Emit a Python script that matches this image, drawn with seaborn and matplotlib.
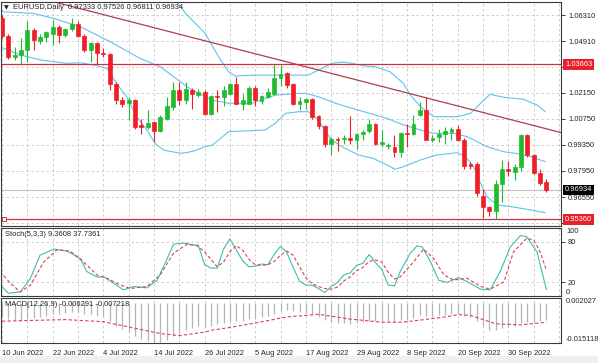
import numpy as np
import matplotlib
matplotlib.use('Agg')
import matplotlib.pyplot as plt
import seaborn as sns
from matplotlib.transforms import blended_transform_factory
from matplotlib.patches import Rectangle

# EURUSD daily candles, 10 Jun 2022 .. 10 Oct 2022
opens = [1.0617, 1.0518, 1.0406, 1.0418, 1.0445, 1.0551, 1.0490, 1.0511, 1.0532, 1.0568,
         1.0523, 1.0554, 1.0583, 1.0518, 1.0443, 1.0482, 1.0429, 1.0421, 1.0263, 1.0177,
         1.0159, 1.0177, 1.0039, 1.0030, 1.0057, 1.0012, 1.0075, 1.0138, 1.0228, 1.0174,
         1.0231, 1.0201, 1.0220, 1.0102, 1.0198, 1.0192, 1.0206, 1.0260, 1.0156, 1.0156,
         1.0242, 1.0170, 1.0192, 1.0210, 1.0296, 1.0320, 1.0263, 1.0156, 1.0165, 1.0181,
         1.0088, 1.0034, 0.9937, 0.9968, 0.9966, 0.9970, 0.9962, 0.9991, 1.0009, 1.0048,
         0.9937, 0.9929, 0.9923, 0.9896, 0.9998, 0.9995, 1.0093, 1.0120, 0.9962, 0.9977,
         0.9995, 1.0003, 1.0021, 0.9962, 0.9830, 0.9830, 0.9663, 0.9600, 0.9582, 0.9726,
         0.9806, 0.9788, 0.9819, 0.9986, 0.9878, 0.9783, 0.97333]
highs = [1.0630, 1.0528, 1.0461, 1.0506, 1.0601, 1.0560, 1.0532, 1.0545, 1.0605, 1.0578,
         1.0560, 1.0615, 1.0601, 1.0532, 1.0488, 1.0488, 1.0452, 1.0425, 1.0272, 1.0192,
         1.0192, 1.0183, 1.0075, 1.0120, 1.0057, 1.0093, 1.0192, 1.0272, 1.0272, 1.0272,
         1.0242, 1.0235, 1.0228, 1.0201, 1.0231, 1.0249, 1.0267, 1.0299, 1.0210, 1.0249,
         1.0249, 1.0203, 1.0242, 1.0371, 1.0368, 1.0326, 1.0267, 1.0192, 1.0188, 1.0188,
         1.0093, 1.0039, 0.9977, 0.9977, 0.9986, 1.0088, 0.9998, 1.0016, 1.0075, 1.0052,
         1.0016, 0.9944, 0.9986, 1.0003, 1.0045, 1.0093, 1.0165, 1.0192, 0.9986, 1.0021,
         1.0030, 1.0030, 1.0039, 0.9973, 0.9842, 0.9842, 0.9699, 0.9609, 0.9744, 0.9855,
         0.9851, 0.9833, 0.9995, 0.9995, 0.9887, 0.9806, 0.97526]
lows = [1.0506, 1.0398, 1.0389, 1.0362, 1.0380, 1.0445, 1.0475, 1.0488, 1.0470, 1.0482,
        1.0515, 1.0548, 1.0514, 1.0434, 1.0380, 1.0371, 1.0407, 1.0231, 1.0156, 1.0138,
        1.0066, 1.0021, 0.9995, 1.0021, 0.9952, 1.0003, 1.0070, 1.0120, 1.0147, 1.0156,
        1.0129, 1.0190, 1.0093, 1.0093, 1.0111, 1.0142, 1.0201, 1.0156, 1.0120, 1.0152,
        1.0142, 1.0156, 1.0188, 1.0201, 1.0249, 1.0242, 1.0147, 1.0120, 1.0129, 1.0075,
        1.0021, 0.9923, 0.9883, 0.9901, 0.9941, 0.9937, 0.9914, 0.9962, 0.9998, 0.9932,
        0.9923, 0.9914, 0.9869, 0.9869, 0.9923, 0.9986, 1.0088, 0.9959, 0.9950, 0.9950,
        0.9941, 0.9959, 0.9955, 0.9806, 0.9806, 0.9663, 0.9543, 0.9555, 0.9536, 0.9627,
        0.9770, 0.9744, 0.9794, 0.9869, 0.9779, 0.9722, 0.96811]
closes = [1.0518, 1.0406, 1.0418, 1.0445, 1.0551, 1.0496, 1.0511, 1.0538, 1.0568, 1.0523,
          1.0554, 1.0583, 1.0518, 1.0443, 1.0482, 1.0425, 1.0421, 1.0263, 1.0174, 1.0156,
          1.0177, 1.0030, 1.0030, 1.0052, 1.0012, 1.0084, 1.0142, 1.0228, 1.0174, 1.0232,
          1.0206, 1.0220, 1.0102, 1.0195, 1.0192, 1.0228, 1.0260, 1.0156, 1.0174, 1.0242,
          1.0174, 1.0195, 1.0217, 1.0296, 1.0317, 1.0255, 1.0152, 1.0170, 1.0181, 1.0084,
          1.0034, 0.9937, 0.9968, 0.9962, 0.9973, 0.9962, 0.9991, 1.0003, 1.0048, 0.9941,
          0.9950, 0.9932, 0.9896, 0.9998, 0.9991, 1.0045, 1.0120, 0.9962, 0.9973, 0.9995,
          1.0007, 1.0021, 0.9962, 0.9824, 0.9824, 0.9675, 0.9600, 0.9582, 0.9726, 0.9806,
          0.9794, 0.9819, 0.9986, 0.9878, 0.9783, 0.9729, 0.96934]

# bollinger bands, sampled along the chart (bar index, price)
bb_up_x = [0, 10, 20, 25, 27.4, 29.0, 32.1, 34.2, 35.8, 36.9, 39.5, 44.8, 48.4, 50.0, 52.1, 53.7,
           55.3, 57.4, 59.0, 61.3, 63.4, 64.5, 66.1, 68.2, 71.9, 74.0, 76.1, 77.1, 79.3, 82.4, 84.5, 85.8]
bb_up = [1.0850, 1.0840, 1.0810, 1.0770, 1.0712, 1.0640, 1.0533, 1.0408, 1.0327, 1.0304, 1.0309, 1.0309,
         1.0309, 1.0336, 1.0372, 1.0379, 1.0372, 1.0358, 1.0354, 1.0327, 1.0265, 1.0202, 1.0140, 1.0086,
         1.0086, 1.0104, 1.0175, 1.0206, 1.0190, 1.0179, 1.0149, 1.0113]
bb_mid_x = [0, 5.0, 8.2, 12.4, 17.1, 21.8, 25.0, 29.3, 31.1, 33.2, 35.8, 39.5, 41.6, 43.2, 46.9, 48.0,
            50.0, 52.7, 55.3, 58.5, 60.8, 63.5, 66.1, 68.2, 71.3, 73.5, 76.6, 79.3, 81.9, 83.5, 85.8]
bb_mid = [1.0649, 1.0640, 1.0613, 1.0568, 1.0488, 1.0399, 1.0354, 1.0245, 1.0211, 1.0175, 1.0158, 1.0158,
          1.0184, 1.0202, 1.0211, 1.0211, 1.0193, 1.0158, 1.0131, 1.0100, 1.0077, 1.0041, 1.0015, 0.9997,
          0.9997, 0.9979, 0.9925, 0.9898, 0.9886, 0.9872, 0.9845]
bb_low_x = [0, 2.9, 6.1, 10.3, 12.4, 14.5, 16.6, 17.9, 19.7, 21.3, 22.9, 24.2, 25.5, 28.2, 29.4, 30.5,
            32.1, 33.2, 34.2, 35.8, 39.5, 41.6, 43.2, 44.8, 46.9, 48.4, 50.0, 51.1, 52.1, 53.7, 56.3,
            58.6, 60.3, 62.1, 63.4, 66.1, 68.7, 71.9, 73.2, 74.5, 75.6, 76.6, 78.2, 80.3, 82.9, 85.8]
bb_low = [1.0456, 1.0417, 1.0390, 1.0372, 1.0375, 1.0363, 1.0345, 1.0274, 1.0193, 1.0086, 1.0015, 0.9943,
          0.9907, 0.9890, 0.9895, 0.9904, 0.9925, 0.9934, 0.9961, 1.0006, 1.0011, 1.0015, 1.0051, 1.0104,
          1.0113, 1.0113, 1.0068, 1.0006, 0.9961, 0.9925, 0.9881, 0.9863, 0.9836, 0.9804, 0.9818, 0.9854,
          0.9881, 0.9893, 0.9872, 0.9818, 0.9729, 0.9657, 0.9613, 0.9604, 0.9590, 0.9571]

# trend line and horizontal levels
trend_x = [7.6, 88.4]
trend_y = [1.0707, 1.0000]
level_hi = 1.03663
level_lo = 0.95360
last_price = 0.96934

# stochastic (5,3,3)
st_main_x = [-0.3, 1.0, 2.9, 4.5, 6.0, 8.2, 10.3, 12.4, 13.4, 15.0, 16.1, 17.6, 19.2, 20.8, 22.9, 24.5,
             26.1, 27.1, 28.7, 30.3, 31, 32, 33, 34, 35, 36, 37, 38, 39, 40, 41, 42, 43, 44, 45, 46, 47,
             48, 49, 50, 51, 52, 53, 54, 55, 56, 57, 58, 59, 60, 61, 62, 62.9, 64.5, 65.6, 66.4, 67.7,
             69.0, 70.3, 72.1, 73.5, 75.6, 77.1, 78.7, 80.3, 81.9, 82.9, 84.5, 86.0]
st_main = [17, 4, 6, 26, 60, 69, 66, 55, 36, 28, 28, 19, 9, 14, 12, 23,
           55, 76, 78, 75, 75, 46, 41, 41, 69, 84, 68, 52, 43, 44, 47, 46, 61, 73, 64, 42, 22,
           16, 16, 11, 5, 14, 20, 31, 34, 45, 48, 61, 49, 39, 16, 15, 36, 63, 74, 72, 50,
           23, 20, 27, 21, 10, 9, 36, 72, 89, 87, 65, 9.36]
st_sig_x = [-0.3, 1.3, 2.9, 4.5, 6.6, 8.7, 10.8, 12.9, 15.0, 16.6, 18.7, 20.3, 22.9, 25.0, 27.1, 29.2,
            30.8, 32, 33, 34, 35, 36, 37, 38, 39, 40, 41, 42, 43, 44, 45, 46, 47, 48, 49, 50, 51, 52,
            53, 54, 55, 56, 57, 58, 59, 60, 61, 62, 62.9, 65.0, 66.6, 68.2, 69.8, 71.3, 73.5, 75.6,
            77.1, 79.3, 80.8, 82.9, 84.0, 85.0, 86.0]
st_sig = [36, 19, 6, 16, 50, 68, 66, 50, 31, 26, 16, 11, 14, 31, 63, 76,
          74, 65, 54, 43, 50, 65, 74, 68, 54, 46, 45, 46, 51, 60, 66, 60, 43, 27, 18, 14, 11, 10,
          13, 22, 28, 37, 42, 51, 53, 50, 35, 25, 28, 50, 69, 55, 31, 23.5, 26, 14,
          10, 21, 65, 85, 82, 65, 37.74]

# MACD (12,26,9): histogram per bar and signal line
macd_hist = [-0.0050, -0.0058, -0.0064, -0.0066, -0.0060, -0.0056, -0.0052, -0.0047, -0.0042, -0.0040,
             -0.0036, -0.0032, -0.0033, -0.0040, -0.0042, -0.0047, -0.0050, -0.0068, -0.0085, -0.0098,
             -0.0108, -0.0125, -0.0135, -0.0142, -0.0151, -0.0148, -0.0138, -0.0124, -0.0115, -0.0103,
             -0.0095, -0.0088, -0.0090, -0.0085, -0.0080, -0.0074, -0.0066, -0.0067, -0.0066, -0.0060,
             -0.0058, -0.0054, -0.0050, -0.0040, -0.0030, -0.0026, -0.0030, -0.0033, -0.0035, -0.0042,
             -0.0052, -0.0065, -0.0070, -0.0074, -0.0076, -0.0077, -0.0076, -0.0073, -0.0066, -0.0068,
             -0.0068, -0.0069, -0.0071, -0.0064, -0.0062, -0.0055, -0.0046, -0.0048, -0.0047, -0.0045,
             -0.0043, -0.0040, -0.0040, -0.0048, -0.0054, -0.0069, -0.0087, -0.0100, -0.0100, -0.0094,
             -0.0090, -0.0086, -0.0074, -0.0070, -0.0070, -0.0068, -0.006291]
macd_sig_x = [0, 10, 16, 20, 22, 25, 28, 32, 33, 36, 40, 45, 50, 55, 60, 63, 65, 70, 72, 74, 78, 82, 86]
macd_sig = [-0.0068, -0.0062, -0.0070, -0.0090, -0.0100, -0.0115, -0.0123, -0.0110, -0.0103, -0.0092,
            -0.0075, -0.0052, -0.0042, -0.0060, -0.0072, -0.0072, -0.0067, -0.0052, -0.0043, -0.0046,
            -0.0078, -0.0082, -0.007218]

date_ticks = [0, 8, 16, 24, 32, 40, 48, 56, 64, 72, 80]
date_labels = ['10 Jun 2022', '22 Jun 2022', '4 Jul 2022', '14 Jul 2022', '26 Jul 2022', '5 Aug 2022',
               '17 Aug 2022', '29 Aug 2022', '8 Sep 2022', '20 Sep 2022', '30 Sep 2022']
price_ticks = [1.06310, 1.04910, 1.03510, 1.02150, 1.00750, 0.99350, 0.97950, 0.96550, 0.95150]

sns.set_style('white')
plt.rcParams['font.family'] = ['Liberation Sans', 'DejaVu Sans']
FS = 5.4
BULL, BEAR = '#22bb2e', '#f01e28'
BAND = '#62c3ea'
GRID = dict(color='#c6c6c6', lw=0.6, ls=(0, (3, 3)))

fig = plt.figure(figsize=(5.98, 3.63), dpi=100)
W, H = 598.0, 363.0
def panel(top, bottom):
    return fig.add_axes([1 / W, 1 - bottom / H, 560 / W, (bottom - top) / H])

ax = panel(2, 226)
ax_st = panel(228, 296)
ax_md = panel(298, 343)
fig.patches.append(Rectangle((0, 0), 1, 7 / H, transform=fig.transFigure, color='#f0f0f0', zorder=-5))

x = np.arange(len(closes))
xlim = (-0.15, 88.3)
grid_x = np.arange(0, 89, 4)

for a in (ax, ax_st, ax_md):
    a.set_xlim(*xlim)
    for gx in grid_x:
        a.axvline(gx, zorder=0, **GRID)
    for s in a.spines.values():
        s.set_color('#3a3a3a')
        s.set_linewidth(0.8)
    a.yaxis.tick_right()
    a.tick_params(axis='y', labelsize=FS, length=3, width=0.6, pad=2, colors='#222222')
    a.set_xticks([])
    a.set_xlabel('')
    a.set_ylabel('')

# ---- main price panel
ax.set_ylim(0.9500, 1.0701)
for py in price_ticks:
    ax.axhline(py, zorder=0, **GRID)
ax.set_yticks(price_ticks)
# labels under the red level boxes are hidden on the original
hidden = (1.03510, 0.95150)
ax.set_yticklabels(['' if p in hidden else '%.5f' % p for p in price_ticks])

o = np.array(opens); c = np.array(closes); h = np.array(highs); l = np.array(lows)
cols = np.where(c >= o, BULL, BEAR)
ax.vlines(x, l, h, colors=cols, lw=0.8, zorder=3)
ax.bar(x, np.abs(c - o), bottom=np.minimum(o, c), width=0.62, color=cols, edgecolor=cols,
       linewidth=0.5, zorder=4)

sns.lineplot(x=bb_up_x, y=bb_up, ax=ax, color=BAND, lw=0.8, zorder=2)
sns.lineplot(x=bb_mid_x, y=bb_mid, ax=ax, color=BAND, lw=0.8, zorder=2)
sns.lineplot(x=bb_low_x, y=bb_low, ax=ax, color=BAND, lw=0.8, zorder=2)
sns.lineplot(x=trend_x, y=trend_y, ax=ax, color='#a8404c', lw=0.9, zorder=2)
ax.axhline(level_hi, color='#d23040', lw=0.9, zorder=2)
ax.axhline(level_lo, color='#d23040', lw=0.9, zorder=2)
ax.axhline(last_price, color='#c0c0c0', lw=0.8, zorder=1)
ax.set_xlim(*xlim)
ax.set_xlabel('')
ax.set_ylabel('')

tr = blended_transform_factory(ax.transAxes, ax.transData)
for val, bg in [(level_hi, '#e8202e'), (last_price, '#000000'), (level_lo, '#e8202e')]:
    ax.text(1.0 + 4 / 560, val, '%.5f' % val, transform=tr, fontsize=FS, color='white', va='center',
            ha='left', bbox=dict(boxstyle='square,pad=0.25', fc=bg, ec='none'), zorder=10, clip_on=False)
ax.plot([0.3], [level_lo], marker='s', ms=3, mfc='white', mec='#d23040', mew=0.7, zorder=5)
ax.text(3 / 560, 0.975, '\u25bc', transform=ax.transAxes, fontsize=4.5, family=['DejaVu Sans'],
        va='center', ha='left', color='#222222')
ax.text(12 / 560, 0.975, 'EURUSD,Daily  0.97333 0.97526 0.96811 0.96934', transform=ax.transAxes,
        fontsize=FS, va='center', ha='left', color='#222222')

# ---- stochastic panel
ax_st.set_ylim(0, 100)
for lv in (20, 80):
    ax_st.axhline(lv, zorder=0, **GRID)
sns.lineplot(x=st_main_x, y=st_main, ax=ax_st, color='#3cbfae', lw=0.8)
sns.lineplot(x=st_sig_x, y=st_sig, ax=ax_st, color='#e0404a', lw=0.8, linestyle=(0, (3, 2)))
ax_st.set_yticks([20, 80])
ax_st.set_yticklabels(['20', '80'])
trs = blended_transform_factory(ax_st.transAxes, ax_st.transData)
ax_st.text(1.0 + 5 / 560, 100, '100', transform=trs, fontsize=FS, va='top', ha='left', clip_on=False)
ax_st.text(1.0 + 5 / 560, 0, '0', transform=trs, fontsize=FS, va='bottom', ha='left', clip_on=False)
ax_st.text(4 / 560, 0.91, 'Stoch(5,3,3) 9.3608 37.7361', transform=ax_st.transAxes, fontsize=FS,
           va='center', ha='left', color='#222222')
ax_st.set_xlim(*xlim)
ax_st.set_xlabel('')
ax_st.set_ylabel('')

# ---- MACD panel
lo_m, hi_m = -0.015118, 0.002027
ax_md.set_ylim(lo_m, hi_m)
ax_md.vlines(x, 0, macd_hist, colors='#b4b4b4', lw=0.9, zorder=2)
sns.lineplot(x=macd_sig_x, y=macd_sig, ax=ax_md, color='#e0404a', lw=0.8, linestyle=(0, (3, 2)), zorder=3)
ax_md.set_yticks([])
trm = blended_transform_factory(ax_md.transAxes, ax_md.transData)
ax_md.text(1.0 + 5 / 560, hi_m, '%.6f' % hi_m, transform=trm, fontsize=FS, va='top', ha='left', clip_on=False)
ax_md.text(1.0 + 5 / 560, lo_m, '%.6f' % lo_m, transform=trm, fontsize=FS, va='bottom', ha='left', clip_on=False)
ax_md.text(4 / 560, 0.86, 'MACD(12,26,9) -0.006291 -0.007218', transform=ax_md.transAxes, fontsize=FS,
           va='center', ha='left', color='#222222')
ax_md.set_xlim(*xlim)
ax_md.set_xticks(date_ticks)
ax_md.set_xticklabels(date_labels, ha='left')
ax_md.tick_params(axis='x', labelsize=FS, length=3, width=0.6, pad=2, colors='#222222')
ax_md.set_xlabel('')
ax_md.set_ylabel('')

fig.savefig('out.png', dpi=100)
